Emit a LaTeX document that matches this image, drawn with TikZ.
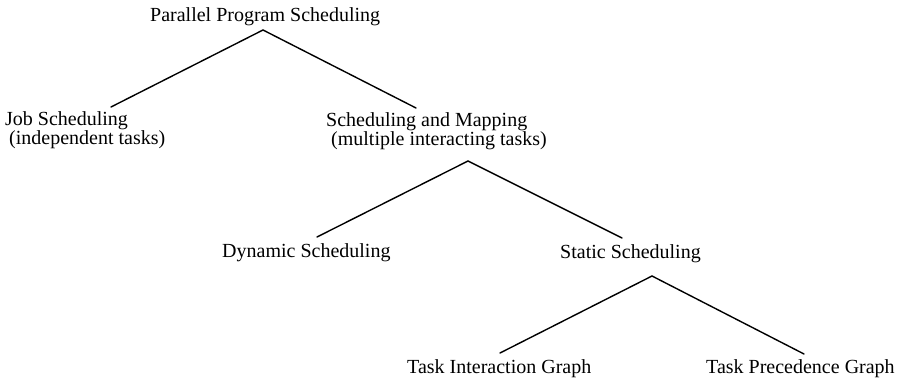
\documentclass[tikz,border=0pt]{standalone}
\usepackage{fontspec}
\setmainfont{Liberation Serif}
\begin{document}
\begin{tikzpicture}[x=1pt,y=-1pt,
  label text/.style={anchor=base west,inner sep=0pt,align=left,
    font=\fontsize{20}{18}\selectfont},
  branch/.style={line width=1.4pt,line cap=round}]
\useasboundingbox (0,0) rectangle (901,382);
% tree labels (two-line labels are placed by the baseline of their last line)
\node[label text] (root) at (150,22) {Parallel Program Scheduling};
\node[label text] (job) at (5,145) {Job Scheduling\\\hspace{4pt}(independent tasks)};
\node[label text] (map) at (326,146) {Scheduling and Mapping\\\hspace{5pt}(multiple interacting tasks)};
\node[label text] (dyn) at (222,257) {Dynamic Scheduling};
\node[label text] (stat) at (560,258) {Static Scheduling};
\node[label text] (tig) at (407,373) {Task Interaction Graph};
\node[label text] (tpg) at (706,373) {Task Precedence Graph};
% branch points
\coordinate (rootfork) at (263,30);
\coordinate (jobtop) at (111,107);
\coordinate (maptop) at (416,108);
\coordinate (mapfork) at (468,161);
\coordinate (dyntop) at (317,237);
\coordinate (stattop) at (622,238);
\coordinate (statfork) at (652,276);
\coordinate (tigtop) at (500,353);
\coordinate (tpgtop) at (804,354);
% branches
\draw[branch] (jobtop) -- (rootfork) -- (maptop);
\draw[branch] (dyntop) -- (mapfork) -- (stattop);
\draw[branch] (tigtop) -- (statfork) -- (tpgtop);
\end{tikzpicture}
\end{document}
